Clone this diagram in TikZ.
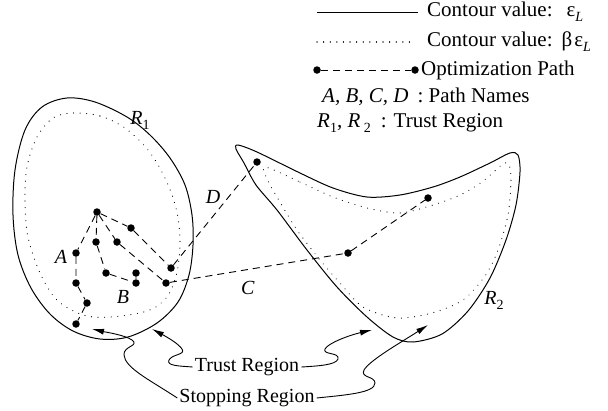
\documentclass[tikz,border=0pt]{standalone}
\usepackage{fontspec}
\setmainfont{Liberation Serif}
\usepackage{tikz}
\usetikzlibrary{arrows.meta, positioning}

\newcommand{\lowsub}[1]{\raisebox{-5pt}{\fontsize{14}{14}\selectfont #1}}

\begin{document}
\begin{tikzpicture}[x=1pt, y=-1pt,
        >={Latex[length=12pt, width=6pt]},
        contour/.style={line width=1pt},
        inner/.style={line width=1.1pt, dash pattern=on 0.1pt off 6.5pt, line cap=round},
        pathln/.style={line width=0.9pt, dash pattern=on 7pt off 5pt},
        dotnode/.style={circle, fill, inner sep=0pt, minimum size=7.5pt},
        lbl/.style={font=\fontsize{20}{24}\selectfont, inner sep=0pt},
        legtxt/.style={font=\fontsize{21}{25}\selectfont, inner sep=0pt, anchor=west},
        arr/.style={->, line width=0.9pt},
    ]
    \useasboundingbox (0,0) rectangle (608,410);

    % legend
    \coordinate (ls1) at (317,12);
    \coordinate (ls2) at (418,12);
    \draw[contour] (ls1) -- (ls2);
    \node[legtxt] (cv1) at (427,12) {Contour value:\hspace{14pt}ε\lowsub{\textit{L}}};
    \coordinate (ld1) at (317,42);
    \coordinate (ld2) at (415,42);
    \draw[inner] (ld1) -- (ld2);
    \node[legtxt] (cv2) at (427,42) {Contour value:\hspace{9pt}β\hspace{2pt}ε\lowsub{\textit{L}}};
    \node[dotnode] (lg1) at (317,70) {};
    \node[dotnode] (lg2) at (415,70) {};
    \draw[pathln] (lg1) -- (lg2);
    \node[legtxt] (opt) at (421,70) {Optimization Path};
    \node[legtxt] (pnames) at (322,97) {\textit{A, B, C, D}\hspace{9pt}: Path Names};
    \node[legtxt] (tregs) at (317,123) {\textit{R}\lowsub{1}, \textit{R}\,\lowsub{2}\hspace{10pt}: Trust Region};

    % regions
    \draw[contour] plot[smooth cycle, tension=0.55] coordinates {
        (67,98) (95,102) (127,117) (150,135) (170,158) (185,185) (192,215) (193,245)
        (189,275) (178,302) (157,323) (128,337) (100,339) (73,331) (50,314) (31,288)
        (18,255) (13,215) (15,170) (25,130) (42,107)};
    \draw[inner] plot[smooth cycle, tension=0.55] coordinates {
        (73,113) (100,116) (125,128) (148,150) (165,178) (176,208) (180,240) (177,272)
        (167,297) (147,311) (110,317) (83,315) (57,300) (40,273) (28,237) (25,200)
        (27,167) (37,137) (53,118)};
    \draw[contour] plot[smooth cycle, tension=0.5] coordinates {
        (238,145) (257,152) (300,173) (333,188) (367,197) (400,195) (433,187) (460,177)
        (490,163) (510,153) (518,155) (520,172) (516,205) (506,240) (490,278) (468,311)
        (442,334) (413,342) (393,337) (367,317) (337,287) (307,250) (277,210) (256,185)
        (244,163) (236,149)};
    \draw[inner] plot[smooth cycle, tension=0.5] coordinates {
        (265,167) (300,182) (333,197) (367,208) (400,213) (433,205) (460,195) (482,182)
        (503,164) (509,165) (511,180) (508,215) (498,250) (485,276) (463,300) (432,313)
        (397,318) (363,307) (340,283) (320,260) (297,230) (277,197) (268,181)};

    % optimization paths
    \node[dotnode] (top) at (97,212) {};
    \node[dotnode] (a1) at (76,253) {};
    \node[dotnode] (a2) at (76,283) {};
    \node[dotnode] (a3) at (87,303) {};
    \node[dotnode] (a4) at (76,324) {};
    \node[dotnode] (b1) at (96,242) {};
    \node[dotnode] (b2) at (106,273) {};
    \node[dotnode] (b3) at (136,283) {};
    \node[dotnode] (b4) at (136,273) {};
    \node[dotnode] (c1) at (117,242) {};
    \node[dotnode] (c2) at (166,283) {};
    \node[dotnode] (c3) at (348,253) {};
    \node[dotnode] (c4) at (428,198) {};
    \node[dotnode] (d1) at (131,228) {};
    \node[dotnode] (d2) at (171,268) {};
    \node[dotnode] (d3) at (257,162) {};
    \draw[pathln] (top) -- (a1) -- (a2) -- (a3) -- (a4);
    \draw[pathln] (top) -- (b1) -- (b2) -- (b3) -- (b4);
    \draw[pathln] (top) -- (c1) -- (c2) -- (c3) -- (c4);
    \draw[pathln] (top) -- (d1) -- (d2) -- (d3);

    \node[lbl] (la) at (61,257) {\textit{A}};
    \node[lbl] (lb) at (123,297) {\textit{B}};
    \node[lbl] (lc) at (248,288) {\textit{C}};
    \node[lbl] (ld) at (213,197) {\textit{D}};
    \node[lbl] (r1) at (140,120) {\textit{R}\lowsub{1}};
    \node[lbl] (r2) at (494,300) {\textit{R}\lowsub{2}};

    % region pointers
    \node[lbl] (trust) at (247,367) {Trust Region};
    \node[lbl] (stop) at (247,398) {Stopping Region};
    \coordinate (tr1) at (152,329);
    \coordinate (tr2) at (372,330);
    \coordinate (st1) at (92,329);
    \coordinate (st2) at (428,325);
    \draw[arr] ([xshift=-2pt]trust.west) .. controls (180,366) and (166,366) .. (169,360)
        .. controls (172,354) and (186,355) .. (182,349) .. controls (178,343) and (165,336) .. (tr1);
    \draw[arr] ([xshift=2pt]trust.east) .. controls (318,366) and (336,365) .. (338,359)
        .. controls (340,352) and (322,355) .. (325,349) .. controls (328,343) and (350,335) .. (tr2);
    \draw[arr] ([xshift=-2pt]stop.west) .. controls (150,380) and (125,368) .. (124,355)
        .. controls (123,346) and (140,346) .. (132,340) .. controls (125,335) and (105,332) .. (st1);
    \draw[arr] ([xshift=2pt]stop.east) .. controls (345,395) and (375,393) .. (375,383)
        .. controls (375,376) and (360,378) .. (364,370) .. controls (370,360) and (400,343) .. (st2);
\end{tikzpicture}
\end{document}
